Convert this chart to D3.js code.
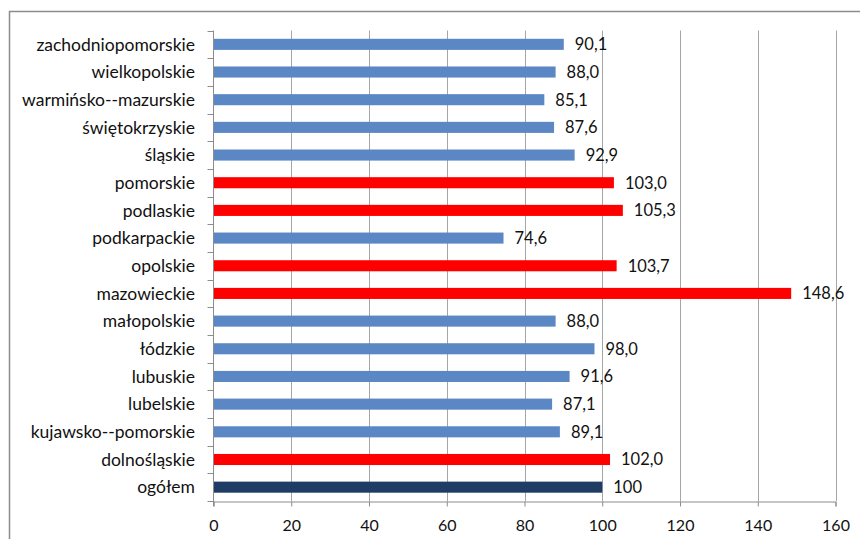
<!DOCTYPE html>
<html>
<head>
<meta charset="utf-8">
<script src="https://cdn.jsdelivr.net/npm/d3@7"></script>
<style>
  body { margin: 0; background: #fff; }
  svg { display: block; font-family: Lato, "Open Sans", sans-serif; }
</style>
</head>
<body>
<svg id="chart" width="860" height="539"></svg>
<script>
(function () {
    'use strict';

    // regions, top to bottom as in the chart
    var regions = ["zachodniopomorskie", "wielkopolskie", "warmińsko--mazurskie", "świętokrzyskie",
        "śląskie", "pomorskie", "podlaskie", "podkarpackie", "opolskie", "mazowieckie",
        "małopolskie", "łódzkie", "lubuskie", "lubelskie", "kujawsko--pomorskie", "dolnośląskie", "ogółem"];
    var values = [90.1, 88.0, 85.1, 87.6, 92.9, 103.0, 105.3, 74.6, 103.7, 148.6,
        88.0, 98.0, 91.6, 87.1, 89.1, 102.0, 100];
    var valueLabels = ["90,1", "88,0", "85,1", "87,6", "92,9", "103,0", "105,3", "74,6", "103,7", "148,6",
        "88,0", "98,0", "91,6", "87,1", "89,1", "102,0", "100"];
    var xTicks = [0, 20, 40, 60, 80, 100, 120, 140, 160];

    var rows = regions.map(function (r, i) { return { name: r, value: values[i], label: valueLabels[i] }; });

    var svg = d3.select("#chart");

    // chart frame (cut by the picture edge)
    svg.append("path")
        .attr("d", "M9.5,545V11.5H866")
        .style("fill", "none")
        .style("stroke", "#8c8c8c")
        .style("stroke-width", "1.5px");

    var x = d3.scaleLinear().domain([0, 160]).range([213.5, 835.5]);
    var y = d3.scaleBand().domain(regions).range([30.5, 501]).paddingInner(0.6).paddingOuter(0.3);

    // vertical gridlines
    svg.append("g").selectAll("line")
        .data(xTicks.slice(1))
        .enter()
        .append("line")
        .attr("x1", function (d) { return Math.round(x(d)) + 0.5; })
        .attr("x2", function (d) { return Math.round(x(d)) + 0.5; })
        .attr("y1", y.range()[0])
        .attr("y2", y.range()[1])
        .style("stroke", "#a6a6a6")
        .style("stroke-width", "1px");

    // bars
    svg.append("g").selectAll("rect")
        .data(rows)
        .enter()
        .append("rect")
        .attr("x", x(0))
        .attr("y", function (d) { return y(d.name); })
        .attr("width", function (d) { return x(d.value) - x(0); })
        .attr("height", y.bandwidth())
        .style("fill", function (d) {
            if (d.name === "ogółem") return "#1f3d64";
            return d.value > 100 ? "#ff0000" : "#5b87c4";
        });

    // value labels
    svg.append("g").selectAll("text")
        .data(rows)
        .enter()
        .append("text")
        .attr("x", function (d) { return x(d.value) + 11; })
        .attr("y", function (d) { return y(d.name) + y.bandwidth() / 2; })
        .attr("dy", "0.36em")
        .style("font-size", "16.5px")
        .style("fill", "#111")
        .text(function (d) { return d.label; });

    // bottom axis
    var xAxis = svg.append("g")
        .attr("transform", "translate(0," + (y.range()[1] + 0.5) + ")")
        .call(d3.axisBottom(x).tickValues(xTicks).tickSize(5).tickPadding(13));
    xAxis.select(".domain").style("stroke", "#8c8c8c");
    xAxis.selectAll(".tick line").style("stroke", "#8c8c8c");
    xAxis.selectAll("text")
        .style("font-family", "Lato, sans-serif")
        .style("font-size", "16px")
        .style("fill", "#111");

    // left axis line with ticks between categories
    var gy = svg.append("g");
    gy.append("line")
        .attr("x1", x(0)).attr("x2", x(0))
        .attr("y1", y.range()[0]).attr("y2", y.range()[1] + 5)
        .style("stroke", "#8c8c8c");
    gy.selectAll(".bt")
        .data(d3.range(regions.length + 1))
        .enter()
        .append("line")
        .attr("x1", x(0) - 6).attr("x2", x(0))
        .attr("y1", function (i) { return Math.round(y.range()[0] + i * y.step()) + 0.5; })
        .attr("y2", function (i) { return Math.round(y.range()[0] + i * y.step()) + 0.5; })
        .style("stroke", "#8c8c8c");
    gy.selectAll("text")
        .data(regions)
        .enter()
        .append("text")
        .attr("x", 195)
        .attr("y", function (d) { return y(d) + y.bandwidth() / 2; })
        .attr("dy", "0.36em")
        .attr("text-anchor", "end")
        .style("font-size", "17.5px")
        .style("fill", "#111")
        .text(function (d) { return d; });
}());
</script>
</body>
</html>
